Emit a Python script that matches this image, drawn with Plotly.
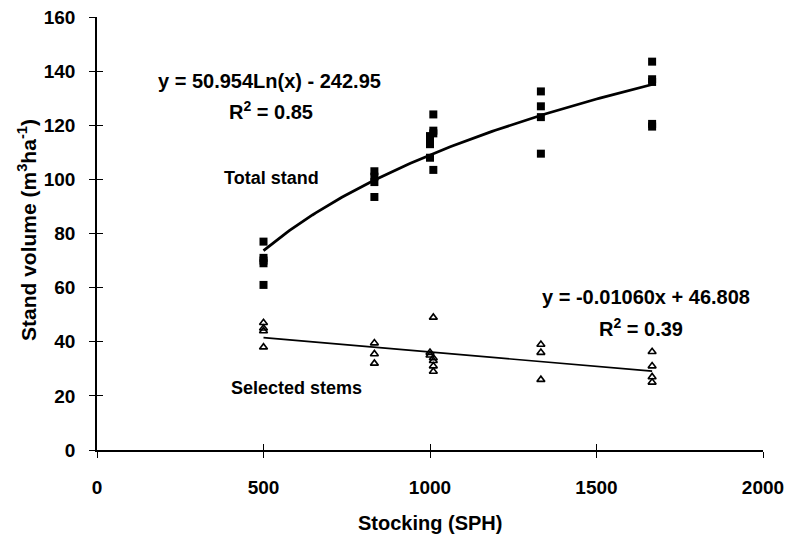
import numpy as np
import plotly.graph_objects as go

# Total stand volume (squares)
total_x = [500, 500, 500, 500, 500,
           833, 833, 833, 833,
           1000, 1000, 1000, 1000, 1010, 1010, 1010, 1010,
           1333, 1333, 1333, 1333,
           1667, 1667, 1667, 1667, 1667]
total_y = [77, 71, 70, 69, 61,
           103, 101, 99, 93.5,
           116, 115, 113, 108, 124, 118, 117, 103.5,
           132.5, 127, 123, 109.5,
           143.5, 137, 136, 120.5, 119.5]

# Selected stems volume (open triangles)
sel_x = [500, 500, 500, 500,
         833, 833, 833,
         1000, 1000, 1010, 1010, 1010, 1010, 1010,
         1333, 1333, 1333,
         1667, 1667, 1667, 1667]
sel_y = [47, 45, 44, 38,
         39.5, 35.5, 32,
         36, 35, 49, 34, 33, 31, 29,
         39, 36, 26,
         36.3, 31, 27, 25]

# Trend line coefficients (from the chart's equations)
log_a, log_b = 50.954, -242.95
lin_m, lin_c = -0.01060, 46.808

x_ticks = [0, 500, 1000, 1500, 2000]
y_ticks = [0, 20, 40, 60, 80, 100, 120, 140, 160]

FONT = "Liberation Sans, Arial, sans-serif"

xfit = np.linspace(500, 1667, 120)
fig = go.Figure()
fig.add_trace(go.Scatter(x=xfit, y=log_a * np.log(xfit) + log_b, mode="lines",
                         line=dict(color="black", width=2.8), hoverinfo="skip"))
fig.add_trace(go.Scatter(x=xfit, y=lin_m * xfit + lin_c, mode="lines",
                         line=dict(color="black", width=1.6), hoverinfo="skip"))
fig.add_trace(go.Scatter(x=total_x, y=total_y, mode="markers",
                         marker=dict(symbol="square", size=8, color="black")))
fig.add_trace(go.Scatter(x=sel_x, y=sel_y, mode="markers",
                         marker=dict(symbol="triangle-up-open", size=7, color="black",
                                     line=dict(width=1.6, color="black"))))

tickfont = dict(family=FONT, size=19, color="black", weight="bold")
fig.update_layout(
    width=787, height=540,
    margin=dict(l=97, r=24, t=17, b=90),
    plot_bgcolor="white", paper_bgcolor="white",
    showlegend=False,
    xaxis=dict(range=[0, 2000], tickvals=x_ticks, showgrid=False, zeroline=False,
               showline=True, linecolor="black", linewidth=1.5, automargin=False,
               ticks="outside", ticklen=6, tickwidth=1.2, tickcolor="black",
               tickfont=tickfont, ticklabelstandoff=13),
    yaxis=dict(range=[0, 160], tickvals=y_ticks, showgrid=False, zeroline=False,
               showline=True, linecolor="black", linewidth=1.5, automargin=False,
               ticks="outside", ticklen=6, tickwidth=1.2, tickcolor="black",
               tickfont=tickfont, ticklabelstandoff=10),
    xaxis2=dict(range=[0, 2000], tickvals=x_ticks, overlaying="x", matches="x",
                side="bottom", anchor="y", showgrid=False, zeroline=False, showline=False,
                automargin=False,
                ticks="inside", ticklen=6, tickwidth=1.2, tickcolor="black", showticklabels=False),
    yaxis2=dict(range=[0, 160], tickvals=y_ticks, overlaying="y", matches="y",
                side="left", anchor="x", showgrid=False, zeroline=False, showline=False,
                automargin=False,
                ticks="inside", ticklen=6, tickwidth=1.2, tickcolor="black", showticklabels=False),
)
# dummy trace to activate overlay axes
fig.add_trace(go.Scatter(x=[None], y=[None], xaxis="x2", yaxis="y2", showlegend=False))

# axis titles
fig.add_annotation(text="Stocking (SPH)", x=0.5, y=-(523 - 450) / (450 - 17),
                   xref="paper", yref="paper", showarrow=False,
                   font=dict(family=FONT, size=20, color="black", weight="bold"),
                   xanchor="center", yanchor="middle")
fig.add_annotation(text="Stand volume (m<sup>3</sup>ha<sup>-1</sup>)", textangle=-90,
                   x=-(97 - 27) / (763 - 97), y=(450 - 230) / (450 - 17),
                   xref="paper", yref="paper", showarrow=False,
                   font=dict(family=FONT, size=21, color="black", weight="bold"),
                   xanchor="center", yanchor="middle")

eqfont = dict(family=FONT, size=20, color="black", weight="bold")
lblfont = dict(family=FONT, size=18, color="black", weight="bold")
annots = [
    ("y = 50.954Ln(x) - 242.95", 519, 136.5, eqfont),
    ("R<sup>2</sup> = 0.85", 522, 125.3, eqfont),
    ("Total stand", 525, 100.5, lblfont),
    ("y = -0.01060x + 46.808", 1648, 56.5, eqfont),
    ("R<sup>2</sup> = 0.39", 1633, 45.1, eqfont),
    ("Selected stems", 600, 22.9, lblfont),
]
for t, x, y, f in annots:
    fig.add_annotation(text=t, x=x, y=y, xref="x", yref="y", showarrow=False,
                       font=f, xanchor="center", yanchor="middle")

fig.write_html("out.html", config={"displayModeBar": False},
               post_script="document.body.style.margin='0px';document.body.style.padding='0px';")
